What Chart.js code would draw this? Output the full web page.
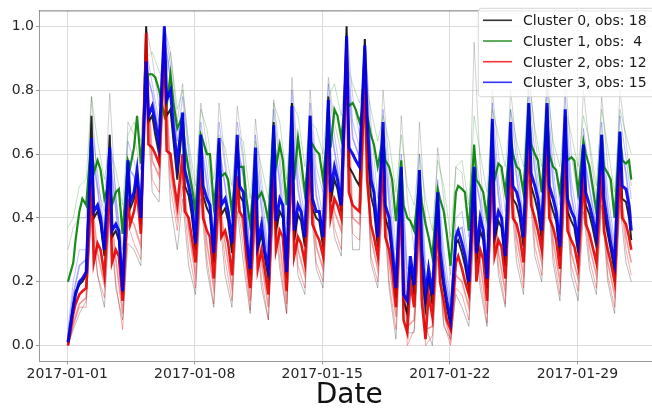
<!DOCTYPE html>
<html><head><meta charset="utf-8">
<style>
html,body{margin:0;padding:0;background:#fff;overflow:hidden;width:652px;height:408px}
#wrap{position:absolute;left:0;top:0;width:680px;height:408px}
</style>
<script src="https://cdn.jsdelivr.net/npm/chart.js@4.4.1/dist/chart.umd.min.js"></script>
</head><body><div id="wrap"><canvas id="c" width="680" height="408"></canvas></div>
<script>
// ---- data (hours since 2017-01-01 00:00) ----
const DAY_HOURS = [1, 8, 11, 16, 20];   // sample hours inside each day for the cluster means
const THIN_HOURS = [1, 8, 16];          // sample hours inside each day for the single observations
const N_DAYS = 31;
const END_HOUR = 743;
const X_TICK_HOURS = [0, 168, 336, 504, 672];
const X_TICK_LABELS = ['2017-01-01', '2017-01-08', '2017-01-15', '2017-01-22', '2017-01-29'];
const Y_TICKS = [0.0, 0.2, 0.4, 0.6, 0.8, 1.0];
const X_TITLE = 'Date';
const CLUSTER_NAMES = ['Cluster 0', 'Cluster 1', 'Cluster 2', 'Cluster 3'];
const CLUSTER_OBS = [18, 4, 12, 15];

// cluster means, one row per day: [01h, 08h, 11h, 16h, 20h], last value = 31 Jan 23h
const cluster0 = [
  0.01,0.13,0.17,0.19,0.20, 0.22,0.72,0.40,0.42,0.38, 0.28,0.66,0.34,0.36,0.33, 0.16,0.56,0.43,0.46,0.52,
  0.38,1.00,0.70,0.72,0.66, 0.60,0.98,0.72,0.74,0.64, 0.52,0.70,0.50,0.47,0.41, 0.30,0.64,0.47,0.43,0.41,
  0.26,0.64,0.41,0.43,0.39, 0.29,0.64,0.47,0.45,0.32, 0.22,0.60,0.30,0.35,0.28, 0.21,0.70,0.36,0.42,0.40,
  0.21,0.76,0.33,0.41,0.39, 0.31,0.72,0.43,0.40,0.39, 0.31,0.78,0.45,0.52,0.49, 0.42,1.00,0.56,0.54,0.52,
  0.50,0.96,0.64,0.47,0.43, 0.31,0.68,0.40,0.36,0.28, 0.15,0.55,0.14,0.10,0.25, 0.16,0.54,0.24,0.12,0.21,
  0.13,0.46,0.26,0.18,0.12, 0.06,0.32,0.33,0.29,0.25, 0.18,0.55,0.26,0.36,0.33, 0.18,0.70,0.33,0.39,0.37,
  0.25,0.68,0.46,0.44,0.40, 0.31,0.75,0.50,0.46,0.42, 0.33,0.75,0.46,0.42,0.39, 0.28,0.72,0.42,0.39,0.37,
  0.29,0.61,0.44,0.41,0.37, 0.31,0.64,0.42,0.35,0.30, 0.23,0.65,0.46,0.45,0.40, 0.33];
const cluster1 = [
  0.20,0.26,0.33,0.42,0.46, 0.44,0.65,0.54,0.58,0.55, 0.46,0.52,0.44,0.48,0.49, 0.35,0.58,0.56,0.62,0.72,
  0.57,0.80,0.85,0.85,0.84, 0.80,0.72,0.75,0.85,0.76, 0.68,0.72,0.62,0.55,0.50, 0.42,0.66,0.64,0.60,0.60,
  0.44,0.57,0.53,0.54,0.52, 0.42,0.59,0.56,0.56,0.46, 0.38,0.57,0.46,0.48,0.45, 0.39,0.69,0.56,0.63,0.58,
  0.44,0.70,0.52,0.65,0.58, 0.48,0.64,0.63,0.61,0.60, 0.52,0.70,0.62,0.74,0.72, 0.65,0.80,0.75,0.76,0.74,
  0.70,0.77,0.72,0.66,0.63, 0.56,0.65,0.58,0.56,0.52, 0.39,0.58,0.44,0.40,0.39, 0.36,0.52,0.45,0.38,0.34,
  0.28,0.49,0.46,0.42,0.35, 0.25,0.48,0.50,0.49,0.48, 0.36,0.63,0.52,0.50,0.48, 0.40,0.65,0.52,0.57,0.56,
  0.48,0.65,0.60,0.56,0.55, 0.48,0.76,0.63,0.60,0.58, 0.48,0.75,0.60,0.56,0.55, 0.48,0.65,0.58,0.59,0.58,
  0.48,0.64,0.60,0.56,0.50, 0.42,0.66,0.56,0.54,0.52, 0.40,0.67,0.58,0.57,0.58, 0.52];
const cluster2 = [
  0.00,0.10,0.13,0.16,0.17, 0.18,0.52,0.26,0.32,0.30, 0.22,0.51,0.26,0.30,0.28, 0.14,0.46,0.38,0.42,0.48,
  0.35,0.98,0.63,0.62,0.60, 0.57,0.95,0.61,0.60,0.52, 0.44,0.60,0.42,0.40,0.34, 0.26,0.58,0.40,0.36,0.34,
  0.21,0.52,0.34,0.36,0.32, 0.22,0.53,0.42,0.40,0.28, 0.18,0.48,0.24,0.30,0.24, 0.16,0.56,0.30,0.36,0.34,
  0.17,0.63,0.28,0.34,0.32, 0.26,0.59,0.38,0.35,0.33, 0.28,0.65,0.40,0.46,0.44, 0.40,0.93,0.48,0.44,0.43,
  0.42,0.85,0.52,0.38,0.34, 0.28,0.58,0.34,0.30,0.24, 0.12,0.48,0.08,0.04,0.20, 0.12,0.46,0.14,0.02,0.16,
  0.09,0.40,0.20,0.14,0.08, 0.05,0.26,0.28,0.24,0.20, 0.16,0.48,0.20,0.30,0.27, 0.14,0.61,0.28,0.33,0.31,
  0.21,0.60,0.40,0.38,0.34, 0.26,0.65,0.44,0.40,0.36, 0.30,0.65,0.40,0.37,0.33, 0.24,0.62,0.36,0.33,0.31,
  0.25,0.54,0.38,0.35,0.31, 0.26,0.56,0.36,0.30,0.26, 0.20,0.56,0.40,0.38,0.34, 0.30];
const cluster3 = [
  0.01,0.12,0.16,0.20,0.21, 0.23,0.65,0.42,0.44,0.40, 0.30,0.62,0.36,0.38,0.36, 0.17,0.58,0.45,0.48,0.55,
  0.40,0.89,0.72,0.75,0.70, 0.63,1.00,0.77,0.80,0.68, 0.57,0.73,0.55,0.50,0.45, 0.32,0.66,0.50,0.46,0.44,
  0.29,0.65,0.44,0.46,0.42, 0.32,0.66,0.50,0.48,0.34, 0.24,0.62,0.32,0.38,0.30, 0.24,0.69,0.39,0.46,0.44,
  0.23,0.75,0.36,0.44,0.42, 0.34,0.72,0.46,0.42,0.42, 0.34,0.77,0.48,0.56,0.52, 0.44,0.97,0.62,0.60,0.58,
  0.56,0.94,0.71,0.52,0.48, 0.34,0.70,0.44,0.40,0.30, 0.18,0.56,0.16,0.14,0.28, 0.19,0.55,0.30,0.16,0.24,
  0.16,0.48,0.30,0.20,0.14, 0.08,0.34,0.36,0.32,0.28, 0.20,0.56,0.29,0.40,0.36, 0.21,0.71,0.36,0.42,0.40,
  0.28,0.70,0.50,0.48,0.44, 0.34,0.76,0.54,0.50,0.46, 0.36,0.76,0.50,0.46,0.42, 0.31,0.74,0.46,0.42,0.40,
  0.32,0.63,0.48,0.44,0.40, 0.34,0.66,0.46,0.38,0.32, 0.26,0.67,0.50,0.49,0.44, 0.36];

// single observations (faint), one row per day: [01h, 08h, 16h], last value = 31 Jan 23h
const obsBlueHigh = [
  0.05,0.20,0.30, 0.30,0.70,0.54, 0.36,0.66,0.48, 0.24,0.64,0.58, 0.48,0.93,0.82, 0.70,1.00,0.88, 0.64,0.78,0.60,
  0.38,0.70,0.56, 0.36,0.70,0.56, 0.40,0.70,0.58, 0.30,0.66,0.48, 0.30,0.74,0.56, 0.30,0.80,0.54, 0.40,0.76,0.52,
  0.40,0.82,0.66, 0.52,0.98,0.70, 0.62,0.96,0.62, 0.40,0.74,0.50, 0.24,0.60,0.24, 0.25,0.60,0.26, 0.22,0.52,0.30,
  0.14,0.40,0.42, 0.26,0.62,0.50, 0.28,0.76,0.52, 0.34,0.74,0.58, 0.40,0.80,0.60, 0.42,0.80,0.56, 0.37,0.78,0.52,
  0.38,0.68,0.54, 0.40,0.70,0.48, 0.32,0.72,0.59, 0.46];
const obsBlueMid = [
  0.03,0.16,0.25, 0.27,0.62,0.49, 0.33,0.60,0.43, 0.21,0.56,0.53, 0.44,0.86,0.79, 0.66,0.96,0.84, 0.60,0.70,0.55,
  0.35,0.64,0.51, 0.32,0.62,0.50, 0.35,0.63,0.53, 0.27,0.60,0.43, 0.27,0.66,0.51, 0.26,0.72,0.49, 0.37,0.70,0.47,
  0.37,0.74,0.61, 0.48,0.92,0.65, 0.59,0.90,0.57, 0.37,0.67,0.45, 0.21,0.53,0.19, 0.22,0.52,0.21, 0.19,0.46,0.25,
  0.11,0.36,0.37, 0.23,0.54,0.45, 0.24,0.68,0.47, 0.31,0.67,0.53, 0.37,0.73,0.55, 0.39,0.73,0.51, 0.34,0.71,0.47,
  0.35,0.61,0.49, 0.37,0.63,0.43, 0.29,0.64,0.54, 0.40];
const obsRedMid = [
  0.00,0.07,0.13, 0.15,0.47,0.29, 0.19,0.46,0.27, 0.10,0.41,0.38, 0.31,0.93,0.58, 0.53,0.90,0.55, 0.40,0.55,0.36,
  0.22,0.53,0.32, 0.18,0.47,0.32, 0.18,0.48,0.36, 0.14,0.43,0.26, 0.12,0.51,0.32, 0.13,0.58,0.30, 0.22,0.54,0.31,
  0.24,0.60,0.42, 0.36,0.88,0.40, 0.38,0.80,0.34, 0.24,0.53,0.26, 0.09,0.44,0.06, 0.08,0.42,0.05, 0.06,0.36,0.10,
  0.02,0.22,0.20, 0.12,0.44,0.26, 0.10,0.56,0.29, 0.17,0.55,0.34, 0.22,0.60,0.36, 0.26,0.60,0.33, 0.20,0.57,0.29,
  0.21,0.50,0.31, 0.22,0.51,0.26, 0.16,0.51,0.34, 0.26];
const obsRedLow = [
  0.00,0.06,0.12, 0.12,0.44,0.22, 0.15,0.44,0.20, 0.05,0.38,0.32, 0.27,0.90,0.52, 0.48,0.88,0.50, 0.36,0.50,0.30,
  0.18,0.50,0.27, 0.13,0.44,0.27, 0.14,0.45,0.31, 0.11,0.40,0.21, 0.08,0.48,0.27, 0.10,0.55,0.25, 0.18,0.51,0.26,
  0.20,0.57,0.37, 0.30,0.85,0.35, 0.33,0.77,0.28, 0.20,0.50,0.20, 0.05,0.40,0.00, 0.05,0.38,0.00, 0.03,0.32,0.07,
  0.00,0.18,0.16, 0.08,0.40,0.21, 0.07,0.53,0.25, 0.13,0.52,0.30, 0.18,0.57,0.31, 0.22,0.57,0.29, 0.16,0.54,0.25,
  0.17,0.46,0.27, 0.18,0.48,0.22, 0.12,0.48,0.30, 0.22];
const obsGreyHigh = [
  0.30,0.37,0.40, 0.40,0.78,0.50, 0.42,0.79,0.46, 0.30,0.70,0.66, 0.55,1.00,0.90, 0.75,1.00,0.92, 0.70,0.82,0.62,
  0.45,0.76,0.62, 0.42,0.76,0.58, 0.44,0.75,0.60, 0.36,0.71,0.52, 0.36,0.77,0.60, 0.38,0.84,0.58, 0.46,0.80,0.56,
  0.48,0.84,0.70, 0.60,1.00,0.78, 0.66,0.96,0.70, 0.46,0.80,0.56, 0.30,0.72,0.46, 0.30,0.70,0.40, 0.26,0.62,0.46,
  0.22,0.56,0.54, 0.34,0.95,0.56, 0.34,0.80,0.60, 0.42,0.80,0.62, 0.46,0.86,0.66, 0.48,0.86,0.62, 0.44,0.84,0.60,
  0.46,0.80,0.62, 0.46,0.78,0.56, 0.40,0.80,0.64, 0.50];
const obsGreyLow = [
  0.00,0.05,0.10, 0.14,0.40,0.22, 0.12,0.40,0.18, 0.08,0.32,0.30, 0.25,0.80,0.48, 0.45,0.85,0.44, 0.30,0.46,0.25,
  0.16,0.46,0.24, 0.12,0.42,0.22, 0.12,0.42,0.26, 0.10,0.38,0.18, 0.08,0.44,0.24, 0.10,0.50,0.22, 0.16,0.46,0.24,
  0.18,0.52,0.34, 0.28,0.80,0.30, 0.30,0.72,0.26, 0.18,0.46,0.18, 0.02,0.36,0.04, 0.04,0.34,0.06, 0.00,0.28,0.06,
  0.02,0.16,0.12, 0.06,0.36,0.18, 0.06,0.48,0.22, 0.12,0.48,0.26, 0.16,0.52,0.28, 0.20,0.52,0.26, 0.14,0.50,0.22,
  0.14,0.42,0.24, 0.16,0.44,0.20, 0.10,0.44,0.26, 0.20];
const obsGreenHigh = [
  0.37,0.40,0.50, 0.52,0.78,0.64, 0.52,0.62,0.55, 0.44,0.66,0.70, 0.64,0.90,0.92, 0.86,0.82,0.92, 0.74,0.80,0.64,
  0.50,0.74,0.68, 0.52,0.66,0.62, 0.50,0.66,0.64, 0.46,0.64,0.56, 0.46,0.76,0.70, 0.52,0.76,0.72, 0.56,0.70,0.68,
  0.60,0.78,0.82, 0.72,0.88,0.82, 0.76,0.84,0.74, 0.64,0.72,0.64, 0.48,0.66,0.50, 0.44,0.60,0.46, 0.36,0.58,0.50,
  0.34,0.56,0.58, 0.44,0.72,0.60, 0.48,0.74,0.66, 0.56,0.74,0.64, 0.56,0.84,0.68, 0.56,0.82,0.64, 0.56,0.74,0.66,
  0.56,0.72,0.64, 0.50,0.74,0.62, 0.48,0.74,0.66, 0.60];

// ---- build {x,y} tables from the arrays ----
function buildTimes(hours) {
  const t = [];
  for (let d = 0; d < N_DAYS; d++) for (const h of hours) t.push(d * 24 + h);
  t.push(END_HOUR);
  return t;
}
const T_MEAN = buildTimes(DAY_HOURS);
const T_THIN = buildTimes(THIN_HOURS);
const pts = (times, vals) => vals.map((v, i) => ({x: times[i], y: v}));

const meanColors = ['rgba(0,0,0,0.8)', 'rgba(0,128,0,0.8)', 'rgba(255,0,0,0.8)', 'rgba(0,0,255,0.8)'];
const lineColors = ['rgba(0,0,0,0.85)', 'rgba(0,128,0,0.9)', 'rgba(230,0,0,0.9)', 'rgba(0,0,235,0.92)'];
const meanWidths = [2, 2.2, 2.6, 3];
const meanOrder = [3, 2, 1, 0];
const means = [cluster0, cluster1, cluster2, cluster3];
const legendLabels = CLUSTER_NAMES.map((n, i) => n + ', obs: ' + String(CLUSTER_OBS[i]).padStart(2, ' '));

const datasets = [];
const thin = [
  [obsGreyLow, 'rgba(60,60,60,0.35)', 1],
  [obsRedLow, 'rgba(255,0,0,0.35)', 1],
  [obsRedMid, 'rgba(230,0,0,0.4)', 1.6],
  [obsGreyHigh, 'rgba(60,60,60,0.3)', 0.8],
  [obsGreenHigh, 'rgba(0,128,0,0.3)', 0.8],
  [obsBlueHigh, 'rgba(0,0,255,0.25)', 1],
  [obsBlueMid, 'rgba(0,0,255,0.35)', 1.6]
];
thin.forEach(([vals, col, w], i) => datasets.push({
  data: pts(T_THIN, vals), borderColor: col, borderWidth: w, order: 10 + i
}));
means.forEach((vals, i) => datasets.push({
  label: legendLabels[i], data: pts(T_MEAN, vals), borderColor: lineColors[i], borderWidth: meanWidths[i], order: meanOrder[i]
}));

const FONT = "'DejaVu Sans', sans-serif";

const decor = {
  id: 'decor',
  afterDraw(chart) {
    const {ctx, chartArea: a} = chart;
    ctx.save();
    // top spine
    ctx.strokeStyle = '#777';
    ctx.lineWidth = 1;
    ctx.beginPath(); ctx.moveTo(a.left, a.top + 0.5); ctx.lineTo(a.right, a.top + 0.5); ctx.stroke();
    // x title
    ctx.fillStyle = '#111';
    ctx.font = '28px ' + FONT;
    ctx.textAlign = 'center';
    ctx.textBaseline = 'alphabetic';
    ctx.fillText(X_TITLE, (a.left + a.right) / 2, 403.3);
    // legend
    const bx = 478.3, by = 8.3, bw = 656 - bx, bh = 88.4, r = 3;
    ctx.beginPath();
    ctx.moveTo(bx + r, by); ctx.lineTo(bx + bw - r, by); ctx.arcTo(bx + bw, by, bx + bw, by + r, r);
    ctx.lineTo(bx + bw, by + bh - r); ctx.arcTo(bx + bw, by + bh, bx + bw - r, by + bh, r);
    ctx.lineTo(bx + r, by + bh); ctx.arcTo(bx, by + bh, bx, by + bh - r, r);
    ctx.lineTo(bx, by + r); ctx.arcTo(bx, by, bx + r, by, r); ctx.closePath();
    ctx.fillStyle = 'rgba(255,255,255,0.8)'; ctx.fill();
    ctx.strokeStyle = 'rgba(204,204,204,0.8)'; ctx.lineWidth = 1; ctx.stroke();
    const rows = [20.3, 41.0, 61.7, 82.3];
    ctx.font = '14px ' + FONT;
    ctx.textAlign = 'left';
    legendLabels.forEach((lab, i) => {
      ctx.strokeStyle = meanColors[i]; ctx.lineWidth = 1.6;
      ctx.beginPath(); ctx.moveTo(483, rows[i]); ctx.lineTo(512, rows[i]); ctx.stroke();
      ctx.fillStyle = '#1a1a1a';
      ctx.fillText(lab, 523, rows[i] + 5);
    });
    ctx.restore();
  }
};

new Chart(document.getElementById('c'), {
  type: 'line',
  data: {datasets},
  options: {
    responsive: false, animation: false, devicePixelRatio: 1,
    layout: {padding: {top: 1, right: 20.5, left: 0, bottom: 0}},
    elements: {point: {radius: 0}, line: {tension: 0}},
    plugins: {legend: {display: false}, tooltip: {enabled: false}},
    scales: {
      x: {
        type: 'linear', min: -37.15, max: 780.15,
        afterBuildTicks: s => { s.ticks = X_TICK_HOURS.map(v => ({value: v})); },
        afterFit: s => { s.height = 46.5; },
        ticks: {
          autoSkip: false, maxRotation: 0, padding: 1, color: '#262626',
          font: {family: FONT, size: 14},
          callback: (v, i) => X_TICK_LABELS[i]
        },
        grid: {color: '#dcdcdc', lineWidth: 1, tickLength: 3, tickColor: '#999'},
        border: {color: '#999', width: 1}
      },
      y: {
        min: -0.05, max: 1.05,
        afterBuildTicks: s => { s.ticks = Y_TICKS.map(v => ({value: v})); },
        afterFit: s => { s.width = 39; },
        ticks: {
          padding: 2, color: '#262626', font: {family: FONT, size: 14},
          callback: v => v.toFixed(1)
        },
        grid: {color: '#dcdcdc', lineWidth: 1, tickLength: 3, tickColor: '#999'},
        border: {color: '#999', width: 1}
      }
    }
  },
  plugins: [decor]
});
</script>
</body></html>
